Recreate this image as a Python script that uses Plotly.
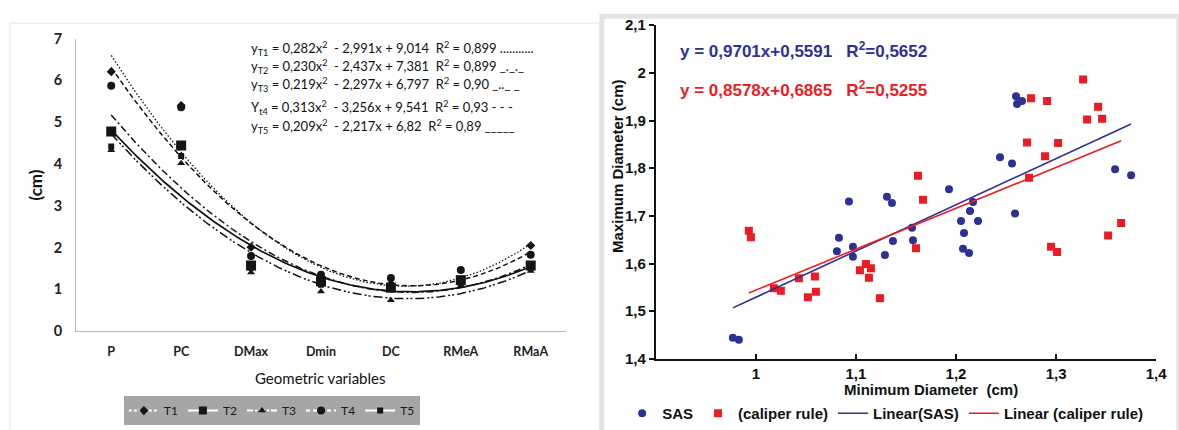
import numpy as np
import plotly.graph_objects as go

W, H = 1179, 430

# ---------------- Left panel data ----------------
categories = ["P", "PC", "DMax", "Dmin", "DC", "RMeA", "RMaA"]
T1 = [6.21, 5.40, 2.01, 1.30, 1.13, 1.22, 2.05]
T2 = [4.78, 4.44, 1.57, 1.19, 1.04, 1.22, 1.57]
T3 = [4.33, 4.02, 1.40, 0.95, 0.74, 1.08, 1.44]
T4 = [5.87, 5.36, 1.80, 1.35, 1.27, 1.46, 1.83]
T5 = [4.42, 4.19, 1.52, 1.11, 1.00, 1.12, 1.52]
series_names = ["T1", "T2", "T3", "T4", "T5"]
# quadratic trend coefficients (a, b, c) as printed on the chart
coef_T1 = [0.282, -2.991, 9.014]
coef_T2 = [0.230, -2.437, 7.381]
coef_T3 = [0.219, -2.297, 6.797]
coef_T4 = [0.313, -3.256, 9.541]
coef_T5 = [0.209, -2.217, 6.82]
eq_texts = [
    "y<sub>T1</sub> = 0,282x<sup>2</sup>  - 2,991x + 9,014  R<sup>2</sup> = 0,899 ...........",
    "y<sub>T2</sub> = 0,230x<sup>2</sup>  - 2,437x + 7,381  R<sup>2</sup> = 0,899 _._._",
    "y<sub>T3</sub> = 0,219x<sup>2</sup>  - 2,297x + 6,797  R<sup>2</sup> = 0,90 _.._ _",
    "Y<sub>t4</sub> = 0,313x<sup>2</sup>  - 3,256x + 9,541  R<sup>2</sup> = 0,93 - - -",
    "y<sub>T5</sub> = 0,209x<sup>2</sup>  - 2,217x + 6,82  R<sup>2</sup> = 0,89 _____",
]
y_ticks_left = [0, 1, 2, 3, 4, 5, 6, 7]

# ---------------- Right panel data ----------------
sas_x = [0.977, 0.983, 1.083, 1.081, 1.093, 1.097, 1.097, 1.129, 1.131, 1.136,
         1.137, 1.156, 1.157, 1.193, 1.205, 1.208, 1.207, 1.213, 1.214, 1.217,
         1.222, 1.244, 1.256, 1.260, 1.266, 1.261, 1.259, 1.359, 1.375]
sas_y = [1.444, 1.440, 1.654, 1.626, 1.730, 1.635, 1.614, 1.618, 1.740, 1.727,
         1.647, 1.675, 1.649, 1.756, 1.689, 1.664, 1.631, 1.622, 1.710, 1.729,
         1.689, 1.823, 1.810, 1.951, 1.941, 1.935, 1.705, 1.798, 1.785]
cal_x = [0.993, 0.995, 1.018, 1.025, 1.043, 1.052, 1.059, 1.060, 1.104, 1.110,
         1.113, 1.115, 1.124, 1.160, 1.162, 1.167, 1.271, 1.273, 1.275, 1.291,
         1.289, 1.302, 1.295, 1.301, 1.327, 1.331, 1.342, 1.346, 1.352, 1.365]
cal_y = [1.669, 1.655, 1.548, 1.543, 1.569, 1.529, 1.573, 1.541, 1.586, 1.599,
         1.570, 1.590, 1.527, 1.632, 1.784, 1.734, 1.854, 1.780, 1.947, 1.941,
         1.825, 1.853, 1.635, 1.624, 1.986, 1.902, 1.929, 1.904, 1.659, 1.685]
fit_sas = [0.9701, 0.5591]
fit_cal = [0.8578, 0.6865]
x_ticks_right = [1.0, 1.1, 1.2, 1.3, 1.4]
x_ticktext_right = ["1", "1,1", "1,2", "1,3", "1,4"]
y_ticks_right = [1.4, 1.5, 1.6, 1.7, 1.8, 1.9, 2.0, 2.1]
y_ticktext_right = ["1,4", "1,5", "1,6", "1,7", "1,8", "1,9", "2", "2,1"]

BLUE = "#2e3192"
RED = "#ed1c24"


def px(x):
    return x / W


def py(y):
    return 1 - y / H


fig = go.Figure()

markers = [
    dict(symbol="diamond", size=7),
    dict(symbol="square", size=10),
    dict(symbol="triangle-up", size=7),
    dict(symbol="circle", size=8),
    dict(symbol="square", size=6),
]
line_styles = [
    dict(dash="5px,3px", width=1.5),
    dict(dash="7px,3px,2px,3px", width=1.5),
    dict(dash="9px,3px,2px,2px,2px,3px", width=1.5),
    dict(dash="1.5px,2px", width=1.3),
    dict(dash="solid", width=1.7),
]
legend_dash = ["3px,2px", "solid", "6px,2px,2px,2px", "4px,3px", "solid"]
all_series = [T1, T2, T3, T4, T5]
all_coef = [coef_T1, coef_T2, coef_T3, coef_T4, coef_T5]
xi = np.arange(len(categories))

for name, vals, mk, ls, coef, ldash in zip(series_names, all_series, markers,
                                           line_styles, all_coef, legend_dash):
    xs = np.linspace(xi[0], xi[-1], 200)
    t = xs + 1
    ys = coef[0] * t ** 2 + coef[1] * t + coef[2]
    fig.add_trace(go.Scatter(x=xs, y=ys, mode="lines", xaxis="x", yaxis="y",
                             line=dict(color="#111111", **ls), showlegend=False,
                             hoverinfo="skip"))
    fig.add_trace(go.Scatter(x=xi, y=vals, mode="markers", xaxis="x", yaxis="y",
                             marker=dict(color="#151515", **mk), showlegend=False))
    fig.add_trace(go.Scatter(x=[None], y=[None], mode="lines+markers", name=name,
                             xaxis="x", yaxis="y", legend="legend",
                             line=dict(color="white", width=2, dash=ldash),
                             marker=dict(color="#151515", symbol=mk["symbol"],
                                         size=min(mk["size"], 8))))

fig.add_trace(go.Scatter(x=sas_x, y=sas_y, mode="markers", name="<b>SAS</b>",
                         xaxis="x2", yaxis="y2", legend="legend2",
                         marker=dict(color=BLUE, size=8, symbol="circle")))
fig.add_trace(go.Scatter(x=cal_x, y=cal_y, mode="markers", name="<b>(caliper rule)</b>",
                         xaxis="x2", yaxis="y2", legend="legend2",
                         marker=dict(color=RED, size=8, symbol="square")))
sx = np.array([min(sas_x), max(sas_x)])
fig.add_trace(go.Scatter(x=sx, y=fit_sas[0] * sx + fit_sas[1], mode="lines",
                         name="<b>Linear(SAS)</b>", xaxis="x2", yaxis="y2",
                         legend="legend2", line=dict(color=BLUE, width=1.6)))
cx = np.array([min(cal_x), max(cal_x)])
fig.add_trace(go.Scatter(x=cx, y=fit_cal[0] * cx + fit_cal[1], mode="lines",
                         name="<b>Linear (caliper rule)</b>", xaxis="x2", yaxis="y2",
                         legend="legend2", line=dict(color=RED, width=1.6)))


def ann(text, x, y, size, color="#111", family="Lato", xanchor="center", angle=0):
    return dict(text=text, x=px(x), y=py(y), xref="paper", yref="paper",
                xanchor=xanchor, yanchor="middle", showarrow=False, textangle=angle,
                font=dict(family=family, size=size, color=color))


annotations = []
eq_y = [41, 60, 79, 103, 123]
for txt, yy in zip(eq_texts, eq_y):
    annotations.append(ann(txt, 251, yy, 13, "#111111", xanchor="left"))
annotations += [
    ann("<b>(cm)</b>", 36, 184, 17, angle=-90),
    ann("Geometric variables", 323, 386, 15),
    ann("<b>y = 0,9701x+0,5591&nbsp;&nbsp;&nbsp;R<sup>2</sup>=0,5652</b>",
        684, 43, 17, BLUE, "Liberation Sans", xanchor="left"),
    ann("<b>y = 0,8578x+0,6865&nbsp;&nbsp;&nbsp;R<sup>2</sup>=0,5255</b>",
        684, 84, 17, RED, "Liberation Sans", xanchor="left"),
    ann("<b>Minimum Diameter  (cm)</b>", 940, 398, 15, family="Liberation Sans"),
    ann("<b>Maximum Diameter (cm)</b>", 624, 165, 15, family="Liberation Sans",
        angle=-90),
]

shapes = [
    dict(type="rect", xref="paper", yref="paper", x0=px(10), x1=px(606), y0=py(445),
         y1=py(15), line=dict(color="#ececec", width=1.5), layer="below"),
    dict(type="rect", xref="paper", yref="paper", x0=px(607.5), x1=px(1190), y0=py(445),
         y1=py(7.5), line=dict(color="#e3e3e3", width=5), fillcolor="white",
         layer="below"),
]

fig.update_layout(
    width=W, height=H, autosize=False,
    margin=dict(l=0, r=0, t=0, b=0),
    paper_bgcolor="white", plot_bgcolor="rgba(0,0,0,0)",
    showlegend=True,
    annotations=annotations, shapes=shapes,
    xaxis=dict(domain=[px(77), px(571)], range=[-0.5, 6.5], tickvals=list(xi),
               ticktext=[f"<b>{c}</b>" for c in categories], showgrid=False,
               zeroline=False, showline=True, linecolor="#b8b8b8", linewidth=1.2,
               ticks="outside", ticklen=9, tickcolor="rgba(0,0,0,0)",
               tickfont=dict(family="Lato", size=12.5, color="#222"), fixedrange=True),
    yaxis=dict(domain=[py(337), py(31)], range=[0, 7], tickvals=y_ticks_left,
               ticktext=[f"<b>{v}</b>" for v in y_ticks_left], showgrid=False,
               zeroline=False, showline=True, linecolor="#b8b8b8", linewidth=1.2,
               ticks="outside", ticklen=10, tickcolor="rgba(0,0,0,0)",
               tickfont=dict(family="Lato", size=14.5, color="#222"), fixedrange=True),
    xaxis2=dict(domain=[px(662), px(1167)], range=[0.9, 1.4], anchor="y2",
                tickvals=x_ticks_right,
                ticktext=[f"<b>{t}</b>" for t in x_ticktext_right], showgrid=False,
                zeroline=False, showline=True, linecolor="#111", linewidth=2,
                ticks="inside", ticklen=5, tickwidth=1.5, tickcolor="#111",
                tickfont=dict(family="Liberation Sans", size=15, color="#111")),
    yaxis2=dict(domain=[py(366), py(17)], range=[1.4, 2.1], anchor="x2",
                tickvals=y_ticks_right,
                ticktext=[f"<b>{t}</b>" for t in y_ticktext_right], showgrid=False,
                zeroline=False, showline=True, linecolor="#111", linewidth=2,
                ticks="outside", ticklen=5, tickwidth=1.5, tickcolor="#111",
                tickfont=dict(family="Liberation Sans", size=15, color="#111")),
    legend=dict(orientation="h", x=px(125), y=py(405), xanchor="left", yanchor="top",
                bgcolor="#a6a6a6", font=dict(family="Lato", size=12, color="#1a1a1a"),
                itemwidth=30, borderwidth=0, tracegroupgap=0),
    legend2=dict(orientation="h", x=px(628), y=py(406), xanchor="left", yanchor="top",
                 bgcolor="rgba(0,0,0,0)",
                 font=dict(family="Liberation Sans", size=15, color="#111"),
                 itemwidth=30, borderwidth=0),
)

fig.write_html("out.html", config={"displayModeBar": False},
               post_script="document.body.style.margin='0px';")
